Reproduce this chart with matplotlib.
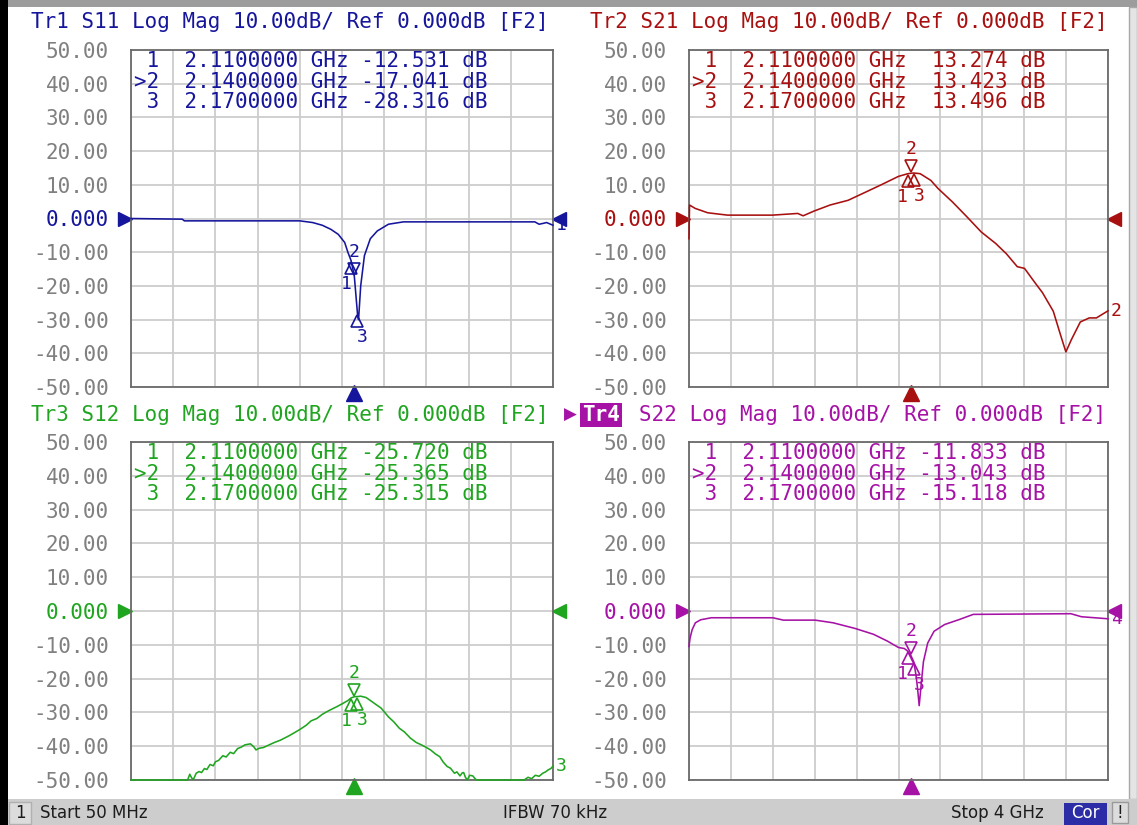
import matplotlib as mpl
mpl.use('Agg')
import matplotlib.pyplot as plt
import numpy as np
from matplotlib import transforms
from matplotlib.patches import Rectangle

plt.rcParams['font.family'] = ['DejaVu Sans Mono']

W, H = 1137, 825

# sweep 50 MHz .. 4 GHz, values in dB
f11 = [0.05, 0.53, 0.55, 1.63, 1.75, 1.84, 1.92, 1.99, 2.05, 2.08, 2.11, 2.14, 2.17, 2.18, 2.19,
       2.20, 2.235, 2.29, 2.355, 2.46, 2.60, 3.83, 3.87, 3.90, 3.94, 4.00]
s11 = [0.0, -0.2, -0.7, -0.7, -1.2, -2.0, -3.2, -4.7, -7.1, -10.0, -12.5, -17.0, -28.3, -30.0, -25.0,
       -20.0, -11.0, -6.0, -3.7, -1.7, -1.0, -1.0, -1.7, -1.5, -1.2, -2.0]

f21 = [0.05, 0.055, 0.108, 0.226, 0.413, 0.837, 1.075, 1.126, 1.228, 1.380, 1.550, 1.686, 1.855,
       2.025, 2.11, 2.14, 2.17, 2.229, 2.330, 2.398, 2.534, 2.670, 2.805, 2.941, 3.043, 3.145,
       3.213, 3.315, 3.382, 3.484, 3.552, 3.603, 3.654, 3.739, 3.823, 3.891, 4.0]
s21 = [-6.0, 4.0, 3.0, 1.7, 1.0, 1.0, 1.5, 0.8, 2.2, 4.0, 5.4, 7.4, 9.9,
       12.5, 13.27, 13.42, 13.5, 13.3, 11.3, 8.9, 4.9, 0.5, -4.0, -7.4, -10.5, -14.3,
       -14.8, -19.2, -22.0, -27.5, -34.5, -39.6, -36.0, -30.7, -29.5, -29.5, -27.4]

f12 = [0.05, 0.58, 0.60, 0.62, 0.635, 0.66, 0.687, 0.71, 0.738, 0.76,
       0.79, 0.82, 0.841, 0.87, 0.91, 0.94, 0.979, 1.01, 1.048, 1.08,
       1.117, 1.168, 1.20, 1.22, 1.25, 1.289, 1.33, 1.392, 1.45, 1.53,
       1.58, 1.633, 1.69, 1.736, 1.79, 1.839, 1.90, 1.977, 2.03, 2.08,
       2.11, 2.14, 2.17, 2.20, 2.25, 2.287, 2.34, 2.39, 2.42, 2.459,
       2.51, 2.562, 2.61, 2.665, 2.72, 2.768, 2.81, 2.854, 2.90, 2.94,
       2.97, 3.009, 3.04, 3.078, 3.10, 3.13, 3.15, 3.164, 3.18, 3.198,
       3.22, 3.25, 3.27, 3.285, 3.73, 3.766, 3.80, 3.835, 3.87, 3.904,
       3.93, 3.956, 3.98, 4.0]
s12 = [-50, -50, -48.3, -49.5, -49.8, -48, -47.5, -47.8, -46.6, -46.9,
       -45.4, -45.8, -44.6, -44.2, -42.8, -43.2, -41.8, -42.2, -40.7, -40.3,
       -39.6, -39.3, -40.2, -41.1, -40.6, -40.4, -39.8, -38.9, -38.2, -36.9,
       -36.0, -35.0, -33.8, -32.5, -31.8, -30.6, -29.5, -28.3, -27.4, -26.5,
       -25.72, -25.37, -25.32, -25.2, -25.6, -26.4, -27.6, -28.7, -29.8, -31.3,
       -32.8, -34.7, -35.8, -37.6, -38.9, -39.6, -40.3, -41.1, -42.3, -43.1,
       -44.6, -46.0, -46.5, -48.0, -47.6, -48.8, -47.9, -47.8, -49.2, -50,
       -48.6, -48.8, -49.6, -50, -50, -49.2, -49.6, -48.6, -48.9, -48.0,
       -47.6, -47.0, -46.6, -45.9]

f22 = [0.05, 0.06, 0.08, 0.11, 0.16, 0.26, 0.84, 0.94, 1.24, 1.41, 1.62, 1.79, 1.92,
       2.025, 2.08, 2.11, 2.14, 2.17, 2.19, 2.205, 2.22, 2.235, 2.26, 2.30, 2.36, 2.46,
       2.60, 2.73, 3.65, 3.75, 4.0]
s22 = [-10.5, -8.0, -5.5, -3.5, -2.6, -2.0, -2.0, -2.7, -2.7, -3.5, -5.2, -6.9, -8.9,
       -10.8, -11.1, -11.83, -13.04, -15.12, -19.0, -23.0, -28.0, -23.0, -15.0, -9.5, -6.0, -4.0,
       -2.5, -1.0, -0.8, -1.7, -2.3]

mk_freq = [2.11, 2.14, 2.17]
mk_s11 = [-12.531, -17.041, -28.316]
mk_s21 = [13.274, 13.423, 13.496]
mk_s12 = [-25.720, -25.365, -25.315]
mk_s22 = [-11.833, -13.043, -15.118]

y_ticks = [50, 40, 30, 20, 10, 0, -10, -20, -30, -40, -50]
y_labels = ['50.00', '40.00', '30.00', '20.00', '10.00', '0.000',
            '-10.00', '-20.00', '-30.00', '-40.00', '-50.00']

fig = plt.figure(figsize=(W / 100, H / 100), dpi=100)
fig.patch.set_facecolor('white')


def fx(x):
    return x / W


def fy(y):
    return 1 - y / H


def panel(box, param, trn, color, f, s, mk_vals, title_x, title_y, active=False):
    l, t, r, b = box
    ax = fig.add_axes([fx(l), fy(b), (r - l) / W, (b - t) / H])
    ax.set_xlim(0.05, 4.0)
    ax.set_ylim(-50, 50)
    ax.set_xticks(np.linspace(0.05, 4.0, 11))
    ax.set_xticklabels([])
    ax.set_yticks(y_ticks)
    ax.set_yticklabels(y_labels)
    ax.grid(True, color='#cdcdcd', lw=1.3)
    ax.set_axisbelow(True)
    ax.tick_params(length=0, pad=16, labelsize=15, labelcolor='#808080')
    for lab, v in zip(ax.get_yticklabels(), y_ticks):
        if v == 0:
            lab.set_color(color)
    for sp in ax.spines.values():
        sp.set_color('#6a6a6a')
        sp.set_linewidth(1.3)

    ax.plot(f, s, color=color, lw=1.15, zorder=3, clip_on=False)

    # markers: 2 is active (above), 1 and 3 below
    up = transforms.offset_copy(ax.transData, fig=fig, y=7, units='dots')
    up_t = transforms.offset_copy(ax.transData, fig=fig, y=24, units='dots')
    ax.plot([mk_freq[1]], [mk_vals[1]], marker='v', ms=9, mfc='none', mec=color,
            mew=1.2, transform=up, clip_on=False, zorder=4)
    ax.text(mk_freq[1], mk_vals[1], '2', transform=up_t, ha='center', va='center',
            fontsize=13, color=color)
    for i, dx in ((0, -5), (2, 5)):
        dn = transforms.offset_copy(ax.transData, fig=fig, y=-7, units='dots')
        dn_t = transforms.offset_copy(ax.transData, fig=fig, x=dx, y=-23, units='dots')
        ax.plot([mk_freq[i]], [mk_vals[i]], marker='^', ms=9, mfc='none', mec=color,
                mew=1.2, transform=dn, clip_on=False, zorder=4)
        ax.text(mk_freq[i], mk_vals[i], str(i + 1), transform=dn_t, ha='center',
                va='center', fontsize=13, color=color)

    # stimulus marker below the grid
    bt = transforms.blended_transform_factory(ax.transData, ax.transAxes)
    ax.plot([mk_freq[1]], [0], marker='^', ms=12, color=color, clip_on=False,
            transform=transforms.offset_copy(bt, fig=fig, y=-6, units='dots'))

    # reference level arrows and trace number
    rt = transforms.blended_transform_factory(ax.transAxes, ax.transData)
    ax.plot([0], [0], marker='>', ms=10, color=color, clip_on=False,
            transform=transforms.offset_copy(rt, fig=fig, x=-6, units='dots'))
    ax.plot([1], [0], marker='<', ms=10, color=color, clip_on=False,
            transform=transforms.offset_copy(rt, fig=fig, x=6, units='dots'))
    ax.text(1, s[-1], trn, transform=transforms.offset_copy(rt, fig=fig, x=3, units='dots'),
            ha='left', va='center', fontsize=13, color=color)

    # marker table
    rows = []
    for i, v in enumerate(mk_vals):
        tag = '>' if i == 1 else ' '
        rows.append('%s%d  %.7f GHz %7.3f dB' % (tag, i + 1, mk_freq[i], v))
    for i, row in enumerate(rows):
        fig.text(fx(l + 3), fy(t + 11 + 20.5 * i), row, fontsize=15, color=color,
                 ha='left', va='center')

    # header line
    rest = '%s Log Mag 10.00dB/ Ref 0.000dB [F2]' % param
    if active:
        fig.text(fx(title_x - 18), fy(title_y), '\u25b6', fontsize=12, color=color,
                 ha='left', va='center', family='DejaVu Sans')
        fig.text(fx(title_x), fy(title_y), 'Tr%s' % trn, fontsize=15, color='white',
                 ha='left', va='center', fontweight='bold',
                 bbox=dict(boxstyle='square,pad=0.08', fc=color, ec='none'))
        fig.text(fx(title_x + 57), fy(title_y), rest, fontsize=15, color=color,
                 ha='left', va='center')
    else:
        fig.text(fx(title_x), fy(title_y), 'Tr%s ' % trn + rest, fontsize=15, color=color,
                 ha='left', va='center')
    return ax


blue = '#16169c'
red = '#a81010'
green = '#20a520'
magenta = '#a612a6'

panel((131, 50, 553, 387), 'S11', '1', blue, f11, s11, mk_s11, 31, 22)
panel((689, 50, 1108, 387), 'S21', '2', red, f21, s21, mk_s21, 590, 22)
panel((131, 442, 553, 780), 'S12', '3', green, f12, s12, mk_s12, 31, 415)
panel((689, 442, 1108, 780), 'S22', '4', magenta, f22, s22, mk_s22, 582, 415, active=True)

# window frame bits
fig.patches.append(Rectangle((0, fy(7)), 1, 7 / H, transform=fig.transFigure,
                             fc='#9c9c9c', ec='none'))
fig.patches.append(Rectangle((0, 0), fx(8), 1, transform=fig.transFigure,
                             fc='black', ec='none'))
fig.patches.append(Rectangle((fx(1129), fy(799)), 8 / W, 792 / H, transform=fig.transFigure,
                             fc='#e4e4e4', ec='#a8a8a8', lw=1))

# status bar
fig.patches.append(Rectangle((fx(8), 0), 1, 26 / H, transform=fig.transFigure,
                             fc='#cdcdcd', ec='none'))
fig.patches.append(Rectangle((fx(9), fy(824)), 22 / W, 22 / H, transform=fig.transFigure,
                             fc='#dcdcdc', ec='#b0b0b0', lw=1))
fig.patches.append(Rectangle((fx(1064), 0), 43 / W, 22 / H, transform=fig.transFigure,
                             fc='#2c2ca6', ec='none'))
fig.patches.append(Rectangle((fx(1112), fy(823)), 16 / W, 21 / H, transform=fig.transFigure,
                             fc='#dcdcdc', ec='#9a9a9a', lw=1))
sb = dict(fontsize=12, family='DejaVu Sans', va='center', color='#1c1c1c')
fig.text(fx(20), fy(813), '1', ha='center', **sb)
fig.text(fx(40), fy(813), 'Start 50 MHz', ha='left', **sb)
fig.text(fx(555), fy(813), 'IFBW 70 kHz', ha='center', **sb)
fig.text(fx(1044), fy(813), 'Stop 4 GHz', ha='right', **sb)
fig.text(fx(1085), fy(813), 'Cor', ha='center', fontsize=12, family='DejaVu Sans',
         va='center', color='white')
fig.text(fx(1120), fy(813), '!', ha='center', **sb)

fig.savefig('out.png', dpi=100, facecolor='white')
